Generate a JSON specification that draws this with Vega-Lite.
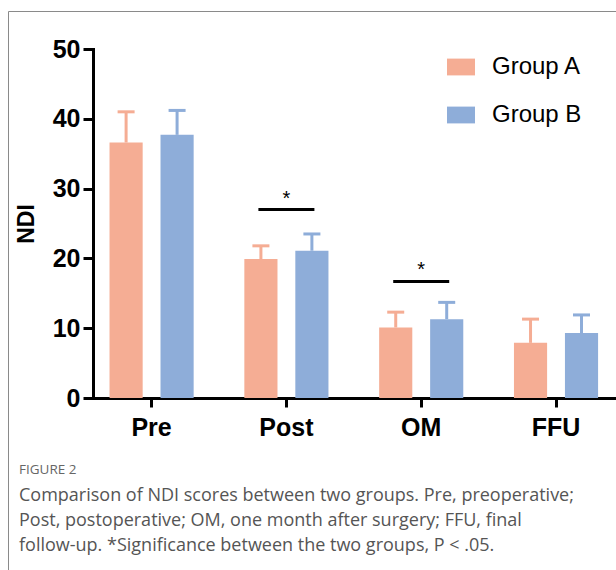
{
  "$schema": "https://vega.github.io/schema/vega-lite/v6.json",
  "autosize": "none",
  "width": 610,
  "height": 561,
  "padding": {"left": 8, "top": 11, "right": -2, "bottom": -2},
  "background": "white",
  "config": {
    "view": {"stroke": "#8a8a8a", "strokeWidth": 1},
    "axis": {"grid": false}
  },
  "title": {
    "text": "FIGURE 2",
    "subtitle": [
      "Comparison of NDI scores between two groups. Pre, preoperative;",
      "Post, postoperative; OM, one month after surgery; FFU, final",
      "follow-up. *Significance between the two groups, P < .05."
    ],
    "orient": "top",
    "anchor": "start",
    "frame": "group",
    "offset": -544,
    "dx": 11,
    "font": "Open Sans",
    "fontSize": 13.5,
    "fontWeight": "normal",
    "color": "#666666",
    "subtitleFont": "Open Sans",
    "subtitleFontSize": 18,
    "subtitleColor": "#555555",
    "subtitleLineHeight": 25,
    "subtitlePadding": 11
  },
  "datasets": {
    "bars": [
      {"time": "Pre", "group": "Group A", "mean": 36.6, "upper": 41.0},
      {"time": "Pre", "group": "Group B", "mean": 37.7, "upper": 41.2},
      {"time": "Post", "group": "Group A", "mean": 19.9, "upper": 21.8},
      {"time": "Post", "group": "Group B", "mean": 21.1, "upper": 23.5},
      {"time": "OM", "group": "Group A", "mean": 10.1, "upper": 12.3},
      {"time": "OM", "group": "Group B", "mean": 11.3, "upper": 13.7},
      {"time": "FFU", "group": "Group A", "mean": 7.9, "upper": 11.3},
      {"time": "FFU", "group": "Group B", "mean": 9.3, "upper": 11.9}
    ],
    "sig": [
      {"time": "Post", "level": 27.0, "mark": "*"},
      {"time": "OM", "level": 16.7, "mark": "*"}
    ]
  },
  "encoding": {
    "x": {
      "field": "time",
      "type": "nominal",
      "sort": ["Pre", "Post", "OM", "FFU"],
      "scale": {"range": [85, 612], "paddingInner": 0.376, "paddingOuter": 0.1426, "align": 0.43},
      "axis": {
        "title": null,
        "labelAngle": 0,
        "labelFont": "Liberation Sans",
        "labelFontWeight": "bold",
        "labelFontSize": 25,
        "labelColor": "black",
        "labelPadding": 8,
        "tickSize": 9,
        "tickWidth": 3,
        "tickColor": "black",
        "domainColor": "black",
        "domainWidth": 3,
        "domainCap": "square",
        "offset": -174
      }
    }
  },
  "layer": [
    {
      "data": {"name": "bars"},
      "mark": {"type": "bar"},
      "encoding": {
        "xOffset": {"field": "group", "type": "nominal", "scale": {"paddingInner": 0.35, "paddingOuter": 0}},
        "y": {
          "field": "mean",
          "type": "quantitative",
          "scale": {"domain": [0, 50], "range": [387, 38], "nice": false},
          "axis": {
            "title": "NDI",
            "values": [0, 10, 20, 30, 40, 50],
            "labelFont": "Liberation Sans",
            "labelFontWeight": "bold",
            "labelFontSize": 25,
            "labelColor": "black",
            "labelPadding": 3,
            "tickSize": 10,
            "tickWidth": 3,
            "tickColor": "black",
            "domainColor": "black",
            "domainWidth": 3,
            "domainCap": "square",
            "titleFont": "Liberation Sans",
            "titleFontWeight": "bold",
            "titleFontSize": 23,
            "titleColor": "black",
            "titlePadding": 14,
            "offset": -85
          }
        },
        "color": {
          "field": "group",
          "type": "nominal",
          "scale": {"domain": ["Group A", "Group B"], "range": ["#F5AD94", "#8EADD9"]},
          "legend": {
            "title": null,
            "orient": "none",
            "legendX": 439,
            "legendY": 42,
            "padding": 0,
            "symbolType": "M-1,-0.6H1V0.6H-1Z",
            "symbolSize": 784,
            "symbolStrokeWidth": 0,
            "symbolOpacity": 1,
            "labelFont": "Liberation Sans",
            "labelFontSize": 24,
            "labelColor": "black",
            "labelOffset": 17,
            "rowPadding": 22
          }
        }
      }
    },
    {
      "data": {"name": "bars"},
      "mark": {"type": "rule", "strokeWidth": 3},
      "encoding": {
        "xOffset": {"field": "group", "type": "nominal"},
        "y": {"field": "mean", "type": "quantitative"},
        "y2": {"field": "upper"},
        "color": {"field": "group", "type": "nominal"}
      }
    },
    {
      "data": {"name": "bars"},
      "mark": {"type": "tick", "orient": "horizontal", "size": 17, "thickness": 3, "opacity": 1},
      "encoding": {
        "xOffset": {"field": "group", "type": "nominal"},
        "y": {"field": "upper", "type": "quantitative"},
        "color": {"field": "group", "type": "nominal"}
      }
    },
    {
      "data": {"name": "sig"},
      "mark": {"type": "tick", "orient": "horizontal", "size": 56, "thickness": 3, "color": "black", "opacity": 1},
      "encoding": {
        "y": {"field": "level", "type": "quantitative"}
      }
    },
    {
      "data": {"name": "sig"},
      "mark": {"type": "text", "font": "Liberation Sans", "fontSize": 20, "color": "black", "dy": -11, "baseline": "middle"},
      "encoding": {
        "y": {"field": "level", "type": "quantitative"},
        "text": {"field": "mark"}
      }
    }
  ]
}
